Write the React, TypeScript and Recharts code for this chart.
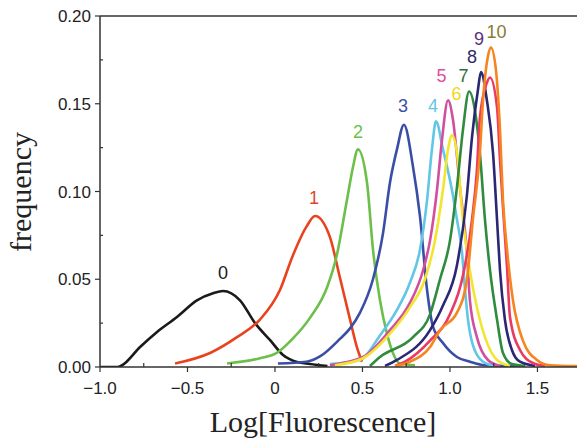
import { Label, Line, LineChart, ReferenceDot, ReferenceLine, XAxis, YAxis } from "recharts"

// [log fluorescence, frequency], one list per sample
const curve0: [number, number][] = [
  [-1.0, 0], [-0.9, 0], [-0.874, 0.001], [-0.771, 0.0114], [-0.674, 0.02], [-0.56, 0.0285],
  [-0.446, 0.038], [-0.354, 0.042], [-0.297, 0.0433], [-0.2, 0.038], [-0.114, 0.025],
  [-0.029, 0.0154], [0.046, 0.0068], [0.126, 0.0028], [0.2, 0.0017], [0.3, 0.0005],
]
const curve1: [number, number][] = [
  [-0.571, 0.002], [-0.371, 0.008], [-0.217, 0.017], [-0.086, 0.027], [0.029, 0.044],
  [0.1, 0.063], [0.18, 0.08], [0.229, 0.086], [0.314, 0.074], [0.371, 0.051],
  [0.429, 0.027], [0.469, 0.011], [0.497, 0.003],
]
const curve2: [number, number][] = [
  [-0.274, 0.002], [-0.086, 0.005], [0.01, 0.008], [0.1, 0.016], [0.2, 0.028],
  [0.3, 0.046], [0.354, 0.064], [0.411, 0.095], [0.446, 0.114], [0.474, 0.124],
  [0.526, 0.105], [0.56, 0.067], [0.6, 0.038], [0.64, 0.019], [0.674, 0.008],
  [0.714, 0.002], [0.8, 0.001],
]
const curve3: [number, number][] = [
  [0.017, 0.002], [0.18, 0.003], [0.257, 0.006], [0.371, 0.016], [0.429, 0.022],
  [0.486, 0.031], [0.56, 0.05], [0.617, 0.076], [0.657, 0.105], [0.697, 0.124],
  [0.737, 0.138], [0.789, 0.114], [0.829, 0.0855], [0.869, 0.044], [0.903, 0.023],
  [0.96, 0.0137], [1.04, 0.0057], [1.114, 0.003], [1.2, 0.001], [1.4, 0.0005],
]
const curve4: [number, number][] = [
  [0.314, 0.0017], [0.486, 0.004], [0.6, 0.018], [0.697, 0.0325], [0.771, 0.048],
  [0.829, 0.067], [0.869, 0.095], [0.897, 0.124], [0.92, 0.14], [0.96, 0.124],
  [1.011, 0.101], [1.04, 0.084], [1.069, 0.065], [1.086, 0.044], [1.103, 0.027],
  [1.131, 0.0125], [1.189, 0.003], [1.257, 0.0006],
]
const curve5: [number, number][] = [
  [0.314, 0.001], [0.503, 0.0057], [0.657, 0.021], [0.771, 0.0365], [0.846, 0.055],
  [0.886, 0.072], [0.926, 0.101], [0.954, 0.129], [0.989, 0.152], [1.017, 0.141],
  [1.057, 0.1025], [1.097, 0.065], [1.114, 0.038], [1.154, 0.017], [1.217, 0.004],
  [1.286, 0.0006],
]
const curve6: [number, number][] = [
  [0.343, 0.001], [0.503, 0.005], [0.657, 0.019], [0.771, 0.034], [0.857, 0.05],
  [0.914, 0.072], [0.96, 0.101], [0.989, 0.124], [1.011, 0.132], [1.04, 0.122],
  [1.074, 0.084], [1.114, 0.055], [1.154, 0.034], [1.2, 0.017], [1.269, 0.004],
  [1.343, 0.0006],
]
const curve7: [number, number][] = [
  [0.543, 0.0006], [0.6, 0.0057], [0.789, 0.017], [0.886, 0.03], [0.943, 0.05],
  [1.0, 0.072], [1.04, 0.1025], [1.074, 0.135], [1.109, 0.157], [1.143, 0.146],
  [1.171, 0.122], [1.2, 0.084], [1.229, 0.055], [1.269, 0.027], [1.303, 0.008],
  [1.354, 0.0017], [1.43, 0.0006],
]
const curve8: [number, number][] = [
  [0.629, 0.0006], [0.697, 0.004], [0.886, 0.021], [0.96, 0.035], [1.04, 0.058],
  [1.097, 0.098], [1.126, 0.131], [1.16, 0.158], [1.177, 0.168], [1.211, 0.152],
  [1.246, 0.122], [1.269, 0.084], [1.286, 0.055], [1.314, 0.027], [1.354, 0.0097],
  [1.4, 0.003], [1.486, 0.0006],
]
const curve9: [number, number][] = [
  [0.686, 0.0006], [0.743, 0.003], [0.886, 0.015], [1.0, 0.03], [1.074, 0.052],
  [1.126, 0.084], [1.154, 0.112], [1.171, 0.142], [1.211, 0.162], [1.229, 0.165],
  [1.269, 0.148], [1.286, 0.118], [1.303, 0.091], [1.326, 0.057], [1.343, 0.0285],
  [1.4, 0.0097], [1.474, 0.0023], [1.543, 0.0006],
]
const curve10: [number, number][] = [
  [0.686, 0.0006], [0.771, 0.003], [0.886, 0.0114], [0.943, 0.021], [1.04, 0.031],
  [1.097, 0.05], [1.131, 0.084], [1.171, 0.122], [1.189, 0.152], [1.217, 0.177],
  [1.234, 0.182], [1.263, 0.169], [1.286, 0.135], [1.303, 0.095], [1.326, 0.067],
  [1.36, 0.038], [1.417, 0.015], [1.497, 0.004], [1.571, 0.001], [1.726, 0.0005],
]

const curves = [curve0, curve1, curve2, curve3, curve4, curve5, curve6, curve7, curve8, curve9, curve10]
const curveColors = [
  "#1a1a1a", "#e8431e", "#6cc04a", "#3b4ea6", "#62c6e6", "#d24f9f",
  "#f2e532", "#2f8b3d", "#2a2774", "#ea3a63", "#f6841f",
]

// labels over the peaks
const peakLabels = ["0", "1", "2", "3", "4", "5", "6", "7", "8", "9", "10"]
const peakLabelX = [-0.297, 0.223, 0.474, 0.731, 0.903, 0.951, 1.037, 1.077, 1.126, 1.166, 1.266]
const peakLabelY = [0.0536, 0.0963, 0.134, 0.149, 0.149, 0.166, 0.156, 0.166, 0.177, 0.187, 0.191]
const peakLabelColors = [
  "#1a1a1a", "#e0452a", "#6cc04a", "#3b4ea6", "#62c6e6", "#e0509a",
  "#f0d820", "#2e6e3a", "#2c2a6e", "#5a3080", "#8a7a30",
]

const xTicks = [-1, -0.75, -0.5, -0.25, 0, 0.25, 0.5, 0.75, 1, 1.25, 1.5]
const yTicks = [0, 0.025, 0.05, 0.075, 0.1, 0.125, 0.15, 0.175, 0.2]

const axisColor = "#333"
const tickFont = "'Liberation Sans', Arial, sans-serif"
const titleFont = "'Liberation Serif', 'Times New Roman', serif"

function fmtX(v: number) {
  if (v === 0) return "0"
  return (v < 0 ? "\u2212" : "") + Math.abs(v).toFixed(1)
}

const XTick = (props: any) => {
  const { x, y, payload } = props
  const v = payload.value as number
  const major = Math.abs(v * 2 - Math.round(v * 2)) < 1e-6
  return (
    <g>
      <line x1={x} x2={x} y1={y} y2={major ? y + 5 : y - 4} stroke={axisColor} strokeWidth={1.2} />
      {major && (
        <text x={x} y={y + 27} textAnchor="middle" fontSize={17} fontFamily={tickFont} fill="#222">
          {fmtX(v)}
        </text>
      )}
    </g>
  )
}

const YTick = (props: any) => {
  const { x, y, payload } = props
  const v = payload.value as number
  const major = Math.abs(v * 20 - Math.round(v * 20)) < 1e-6
  return (
    <g>
      <line x1={x} x2={major ? x - 5 : x + 3} y1={y} y2={y} stroke={axisColor} strokeWidth={1.2} />
      {major && (
        <text x={x - 9} y={y + 6} textAnchor="end" fontSize={17} fontFamily={tickFont} fill="#222">
          {v.toFixed(2)}
        </text>
      )}
    </g>
  )
}

export default function App() {
  return (
    <div style={{ position: "absolute", left: 0, top: 0, width: 577, height: 439, background: "#fff" }}>
      <LineChart width={577} height={439} margin={{ top: 16, right: 0, left: 0, bottom: 0 }}>
        <XAxis
          type="number"
          dataKey="x"
          domain={[-1, 1.726]}
          ticks={xTicks}
          tick={<XTick />}
          tickLine={false}
          tickSize={0}
          tickMargin={0}
          height={72}
          axisLine={{ stroke: axisColor, strokeWidth: 1.5 }}
          allowDataOverflow
        >
          <Label
            content={() => (
              <text x={323} y={432} textAnchor="middle" fontSize={30} fontFamily={titleFont} fill="#222">
                Log[Fluorescence]
              </text>
            )}
          />
        </XAxis>
        <YAxis
          type="number"
          domain={[0, 0.2]}
          ticks={yTicks}
          tick={<YTick />}
          tickLine={false}
          tickSize={0}
          tickMargin={0}
          width={100}
          axisLine={{ stroke: axisColor, strokeWidth: 1.5 }}
          allowDataOverflow
        >
          <Label
            content={() => (
              <text
                x={31}
                y={192}
                textAnchor="middle"
                fontSize={30}
                fontFamily={titleFont}
                fill="#222"
                transform="rotate(-90 31 192)"
              >
                frequency
              </text>
            )}
          />
        </YAxis>
        <ReferenceLine y={0.2} stroke={axisColor} strokeWidth={1.5} />
        {curves.map((c, i) => (
          <Line
            key={i}
            data={c.map(([x, y]) => ({ x, y }))}
            dataKey="y"
            type="monotone"
            stroke={curveColors[i]}
            strokeWidth={2.6}
            dot={false}
            isAnimationActive={false}
          />
        ))}
        {peakLabels.map((t, i) => (
          <ReferenceDot
            key={"l" + i}
            x={peakLabelX[i]}
            y={peakLabelY[i]}
            r={0}
            fill="none"
            stroke="none"
            label={{
              value: t,
              position: "center",
              fill: peakLabelColors[i],
              fontSize: 18,
              fontFamily: tickFont,
            }}
          />
        ))}
      </LineChart>
    </div>
  )
}
